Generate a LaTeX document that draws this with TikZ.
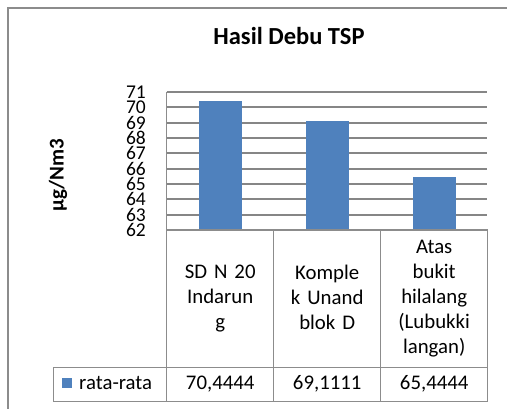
\documentclass[tikz,border=0pt]{standalone}
\usepackage{fontspec}
\setmainfont{Carlito}
\usepackage{xcolor}
\definecolor{barblue}{RGB}{79,129,189}
\definecolor{gridgray}{RGB}{134,134,134}
\definecolor{framegray}{RGB}{140,140,140}
\usetikzlibrary{positioning,calc}

\begin{document}
\begin{tikzpicture}[x=1pt, y=-1pt,
        grid/.style={draw=gridgray, line width=1.8pt},
        cell/.style={draw=framegray, line width=1.3pt},
        bar/.style={fill=barblue, draw=none},
        tick/.style={anchor=east, inner sep=0pt, font=\fontsize{19.5}{19.5}\selectfont},
        cat/.style={align=center, text width=100pt, inner sep=0pt, font=\fontsize{20.8}{25}\selectfont},
        val/.style={anchor=base, inner sep=0pt, font=\fontsize{20.8}{25}\selectfont}
    ]
        \useasboundingbox (0,0) rectangle (507,409);

        % Chart frame (cut off at right and bottom)
        \draw[framegray, line width=1.5pt] (8,409) -- (8,8) -- (507,8);

        % Title
        \node[anchor=base, inner sep=0pt, font=\fontsize{24.5}{24.5}\selectfont\bfseries] (title) at (289,45) {Hasil Debu TSP};

        % Axis label
        \node[rotate=90, inner sep=0pt, font=\fontsize{21}{21}\selectfont\bfseries] (ylabel) at (58,175) {µg/Nm3};

        % Gridlines and tick labels
        \foreach \v in {63,...,71}
            \draw[grid] (166.7,{230-(\v-62)*15.333}) -- (487.3,{230-(\v-62)*15.333});
        \foreach \v in {62,...,71}
            \node[tick] (tick\v) at (146,{230-(\v-62)*15.333}) {\v};

        % Bars
        \foreach \val/\cx in {70.4444/220.2, 69.1111/327.2, 65.4444/434.2}
            \fill[bar] ({\cx-21.3},230) rectangle ({\cx+21.3},{230-(\val-62)*15.333});

        % Data table
        \draw[cell] (166.7,92) -- (166.7,401.7);
        \draw[cell] (166.7,230) -- (487.3,230) -- (487.3,401.7);
        \draw[cell] (273.7,230) -- (273.7,401.7);
        \draw[cell] (380.7,230) -- (380.7,401.7);
        \draw[cell] (53.3,367.7) rectangle (487.3,401.7);

        % Categories
        \node[cat] (cat1) at (220.2,299) {SD N 20\\Indarun\\g};
        \node[cat] (cat2) at (327.2,297) {Komple\\k Unand\\blok D};
        \node[cat] (cat3) at (434.2,299) {Atas\\bukit\\hilalang\\(Lubukki\\langan)};

        % Legend and values
        \fill[barblue] (62,378) rectangle (72,388);
        \node[anchor=base west, inner sep=0pt, font=\fontsize{20.8}{25}\selectfont] (legend) at (79,390) {rata-rata};
        \node[val] (val1) at (220.2,390) {70,4444};
        \node[val] (val2) at (327.2,390) {69,1111};
        \node[val] (val3) at (434.2,390) {65,4444};
    \end{tikzpicture}
\end{document}
